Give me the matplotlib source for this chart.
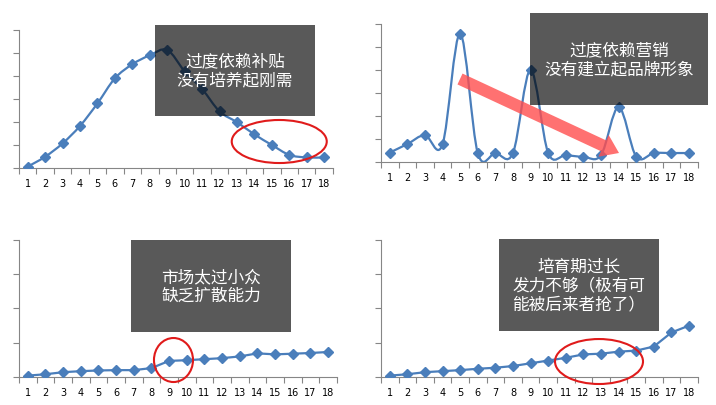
import matplotlib.pyplot as plt
import matplotlib.patches as mpatches
from matplotlib.path import Path
from matplotlib.transforms import IdentityTransform

# 数据
cats = list(range(1, 19))
subsidy = [0.06, 0.49, 1.07, 1.83, 2.81, 3.90, 4.51, 4.90, 5.13, 4.20,
           3.43, 2.46, 1.99, 1.46, 1.00, 0.57, 0.46, 0.46]
marketing = [0.41, 0.78, 1.17, 0.77, 5.58, 0.39, 0.39, 0.39, 4.01, 0.39,
             0.30, 0.23, 0.30, 2.39, 0.23, 0.39, 0.39, 0.39]
niche = [0.04, 0.08, 0.14, 0.17, 0.19, 0.20, 0.20, 0.26, 0.47, 0.49,
         0.52, 0.55, 0.60, 0.69, 0.66, 0.68, 0.70, 0.73]
slow = [0.04, 0.08, 0.14, 0.17, 0.20, 0.24, 0.27, 0.32, 0.40, 0.48,
        0.56, 0.66, 0.68, 0.74, 0.77, 0.89, 1.30, 1.50]
notes = ['过度依赖补贴\n没有培养起刚需',
         '过度依赖营销\n没有建立起品牌形象',
         '市场太过小众\n缺乏扩散能力',
         '培育期过长\n发力不够（极有可\n能被后来者抢了）']

BLUE = '#4a7ebb'
GRAY = '#868686'

fig = plt.figure(figsize=(7.16, 4.06), dpi=100)


def smooth_line(ax, x, y):
    # Excel风格的平滑曲线 (Catmull-Rom -> Bezier)
    n = len(x)
    verts = [(x[0], y[0])]
    codes = [Path.MOVETO]
    for i in range(n - 1):
        i0 = max(i - 1, 0)
        i3 = min(i + 2, n - 1)
        c1 = (x[i] + (x[i + 1] - x[i0]) / 6, y[i] + (y[i + 1] - y[i0]) / 6)
        c2 = (x[i + 1] - (x[i3] - x[i]) / 6, y[i + 1] - (y[i3] - y[i]) / 6)
        verts += [c1, c2, (x[i + 1], y[i + 1])]
        codes += [Path.CURVE4] * 3
    ax.add_patch(mpatches.PathPatch(Path(verts, codes), fill=False,
                                    edgecolor=BLUE, lw=1.6, zorder=2))


def panel(rect, vals, ymax, smooth):
    ax = fig.add_axes(rect)
    if smooth:
        smooth_line(ax, cats, vals)
        ax.plot(cats, vals, 'D', color=BLUE, ms=5, zorder=3)
    else:
        ax.plot(cats, vals, '-D', color=BLUE, ms=5, lw=1.6, zorder=3)
    ax.set_xlim(0.5, 18.5)
    ax.set_ylim(0, ymax)
    for s in ['top', 'right']:
        ax.spines[s].set_visible(False)
    for s in ['left', 'bottom']:
        ax.spines[s].set_color(GRAY)
        ax.spines[s].set_linewidth(0.8)
    ax.set_xticks([i + 0.5 for i in range(0, 19)])
    ax.set_xticklabels([])
    ax.set_xticks(cats, minor=True)
    ax.set_xticklabels([str(c) for c in cats], minor=True, fontsize=7)
    ax.tick_params(axis='x', which='major', length=4, color=GRAY, direction='out')
    ax.tick_params(axis='x', which='minor', length=0, pad=7)
    ax.set_yticks(range(0, ymax + 1))
    ax.set_yticklabels([])
    ax.tick_params(axis='y', length=4, color=GRAY, direction='out')
    ax.patch.set_alpha(0)
    return ax


panel([0.0265, 0.5837, 0.4385, 0.340], subsidy, 6, True)
panel([0.532, 0.5985, 0.4427, 0.340], marketing, 6, True)
panel([0.0265, 0.069, 0.444, 0.3374], niche, 4, False)
panel([0.532, 0.069, 0.4427, 0.3374], slow, 4, False)

# 红色箭头
fig.add_artist(mpatches.FancyArrow(460, 326, 159, -74, width=12, head_width=24,
                                   head_length=17, length_includes_head=True,
                                   color='#ff4d4d', alpha=0.8, lw=0,
                                   transform=IdentityTransform(), zorder=4))

# 灰色说明框
boxes = [(0.2165, 0.7118, 0.2235, 0.2241),
         (0.7402, 0.7389, 0.2486, 0.2266),
         (0.183, 0.1798, 0.2235, 0.2266),
         (0.6969, 0.1823, 0.2235, 0.2266)]
for (x0, y0, w, h), txt in zip(boxes, notes):
    fig.add_artist(mpatches.Rectangle((x0, y0), w, h, transform=fig.transFigure,
                                      facecolor='black', alpha=0.65, lw=0, zorder=5))
    fig.text(x0 + w / 2, y0 + h / 2, txt, ha='center', va='center', color='white',
             fontsize=12, family=['Noto Sans CJK SC', 'DejaVu Sans'],
             linespacing=1.15, zorder=6)

# 红圈
for cx, cy, w, h in [(0.390, 0.649, 0.1327, 0.106),
                     (0.2423, 0.1108, 0.0545, 0.1084),
                     (0.8366, 0.1071, 0.1229, 0.1108)]:
    fig.add_artist(mpatches.Ellipse((cx, cy), w, h, transform=fig.transFigure,
                                    fill=False, edgecolor='#e01b1b', lw=1.5, zorder=7))

fig.savefig('out.png', dpi=100)
